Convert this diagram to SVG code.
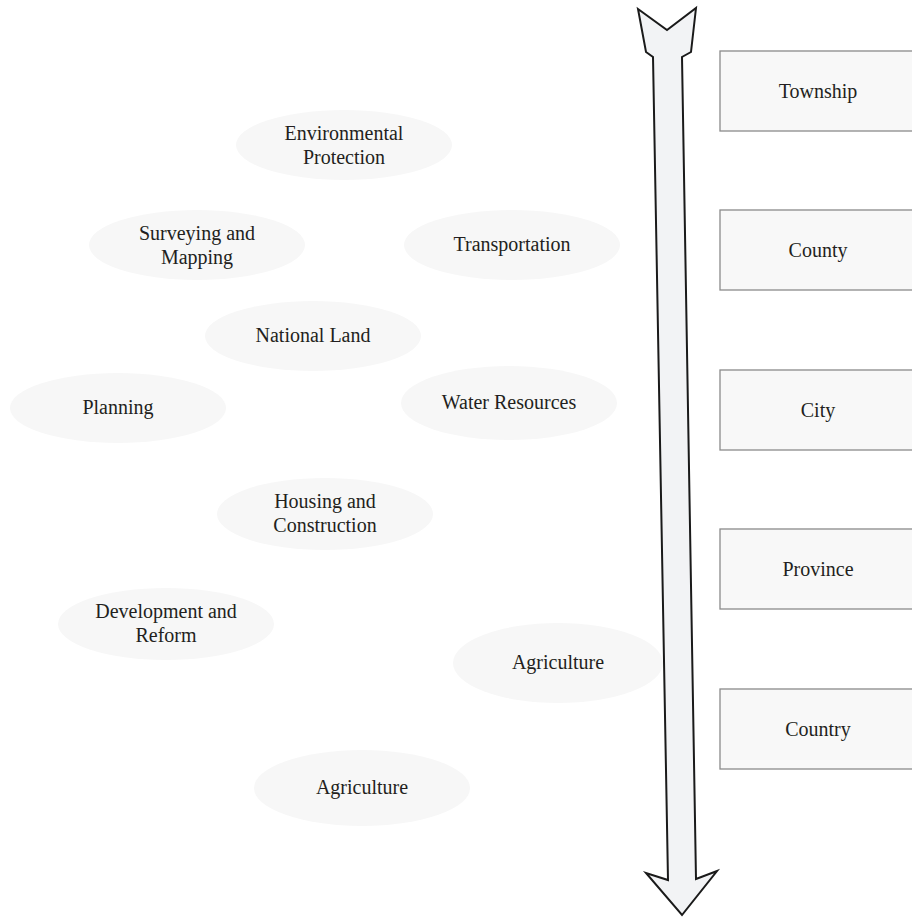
<svg xmlns="http://www.w3.org/2000/svg" width="912" height="917" viewBox="0 0 912 917">
<style>
.e{fill:#f7f7f7;stroke:none}
.b{fill:#f8f8f8;stroke:#8a8a8a;stroke-width:1.3}
text{font-family:"Liberation Serif","Times New Roman",serif;font-size:20px;fill:#231f20;text-anchor:middle}
</style>
<rect width="912" height="917" fill="#fff"/>
<g id="connectors">
<path d="M638,9 L667,30 L696,8 L691,52 L682,57 L696,879 L717,871 L682,915 L646,873 L668,880 L653,57 L646,52 Z" fill="#f2f3f5" stroke="#1a1a1a" stroke-width="2" stroke-linejoin="miter"/>
</g>
<g id="township"><rect class="b" x="720" y="51" width="200" height="80"/><text x="818" y="98">Township</text></g>
<g id="county"><rect class="b" x="720" y="210" width="200" height="80"/><text x="818" y="257">County</text></g>
<g id="city"><rect class="b" x="720" y="370" width="200" height="80"/><text x="818" y="417">City</text></g>
<g id="province"><rect class="b" x="720" y="529" width="200" height="80"/><text x="818" y="576">Province</text></g>
<g id="country"><rect class="b" x="720" y="689" width="200" height="80"/><text x="818" y="736">Country</text></g>
<g id="env"><ellipse class="e" cx="344" cy="145" rx="108" ry="35"/><text x="344" y="140">Environmental</text><text x="344" y="164">Protection</text></g>
<g id="survey"><ellipse class="e" cx="197" cy="245" rx="108" ry="35"/><text x="197" y="240">Surveying and</text><text x="197" y="264">Mapping</text></g>
<g id="transport"><ellipse class="e" cx="512" cy="245" rx="108" ry="35"/><text x="512" y="251">Transportation</text></g>
<g id="national"><ellipse class="e" cx="313" cy="336" rx="108" ry="35"/><text x="313" y="342">National Land</text></g>
<g id="planning"><ellipse class="e" cx="118" cy="408" rx="108" ry="35"/><text x="118" y="414">Planning</text></g>
<g id="water"><ellipse class="e" cx="509" cy="403" rx="108" ry="37"/><text x="509" y="409">Water Resources</text></g>
<g id="housing"><ellipse class="e" cx="325" cy="514" rx="108" ry="36"/><text x="325" y="508">Housing and</text><text x="325" y="532">Construction</text></g>
<g id="devref"><ellipse class="e" cx="166" cy="624" rx="108" ry="36"/><text x="166" y="618">Development and</text><text x="166" y="642">Reform</text></g>
<g id="agri1"><ellipse class="e" cx="558" cy="663" rx="105" ry="40"/><text x="558" y="669">Agriculture</text></g>
<g id="agri2"><ellipse class="e" cx="362" cy="788" rx="108" ry="38"/><text x="362" y="794">Agriculture</text></g>
</svg>
